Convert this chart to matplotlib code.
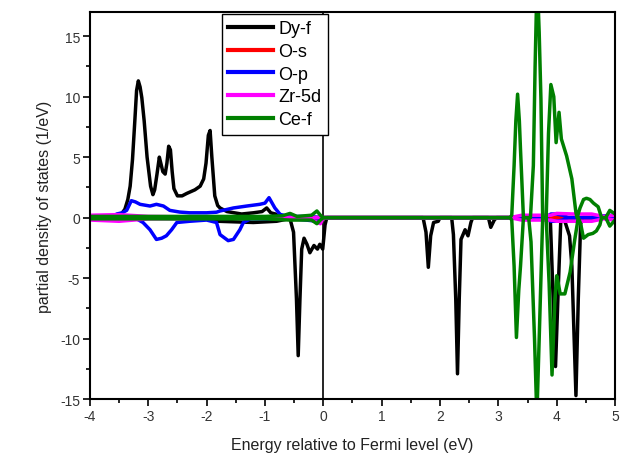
import matplotlib
matplotlib.use("Agg")
import matplotlib.pyplot as plt
from matplotlib.ticker import MultipleLocator, FuncFormatter

plt.rcParams['font.family'] = ['Liberation Sans', 'DejaVu Sans']

# ---- data (spin-up positive, spin-down negative) ----
labels = ["Dy-f", "O-s", "O-p", "Zr-5d", "Ce-f"]
colors = ["#000000", "#ff0000", "#0000ff", "#ff00ff", "#008000"]

dy_up_x = [-4, -3.5, -3.46, -3.40, -3.35, -3.31, -3.27, -3.23, -3.20, -3.17, -3.14, -3.11,
           -3.07, -3.02, -2.96, -2.92, -2.89, -2.85, -2.81, -2.78, -2.75, -2.71, -2.68,
           -2.65, -2.62, -2.59, -2.56, -2.50, -2.42, -2.34, -2.2, -2.11, -2.05, -2.01,
           -1.97, -1.94, -1.91, -1.86, -1.81, -1.77, -1.65, -1.4, -1.2, -1.05, -0.97,
           -0.9, -0.82, -0.74, -0.6, 0, 5]
dy_up_y = [0.05, 0.1, 0.3, 0.7, 1.5, 2.6, 4.8, 8.0, 10.5, 11.3, 10.8, 9.9,
           8.0, 5.0, 2.6, 1.9, 2.3, 3.6, 5.0, 4.4, 3.8, 3.6, 4.5,
           5.9, 5.6, 3.8, 2.4, 1.8, 1.8, 2.0, 2.3, 2.6, 3.2, 4.5,
           6.8, 7.2, 5.0, 1.8, 1.0, 0.8, 0.5, 0.3, 0.4, 0.5, 0.8,
           0.4, 0.3, 0.05, 0, 0, 0]

dy_dn_x = [-4, -2.0, -1.8, -1.2, -0.8, -0.6, -0.57, -0.51, -0.46, -0.43, -0.40, -0.37, -0.33,
           -0.28, -0.23, -0.16, -0.10, -0.06, -0.01, 0.03, 0.06, 1.71, 1.76, 1.80, 1.84,
           1.89, 1.97, 2.0, 2.20, 2.23, 2.27, 2.30, 2.33, 2.36, 2.43, 2.48, 2.53, 2.56,
           2.83, 2.87, 2.93, 2.97, 3.89, 3.93, 3.98, 4.03, 4.07, 4.14, 4.22, 4.26, 4.33,
           4.37, 4.41, 4.45, 5]
dy_dn_y = [0, -0.1, -0.3, -0.4, -0.3, -0.1, -0.1, -1.2, -6.7, -11.4, -6.7, -2.6, -1.7,
           -2.2, -2.9, -2.3, -2.6, -2.2, -2.6, -0.6, 0, 0, -1.2, -4.1, -1.5,
           -0.4, -0.3, 0, 0, -1.4, -6.7, -12.9, -6.7, -1.8, -1.0, -1.5, -0.4, 0,
           0, -0.8, -0.2, 0, 0, -5.4, -12.3, -5.4, -0.3, -0.3, -1.5, -4.0, -14.7,
           -6.7, -0.5, 0, 0]

os_up_x = [-4, -3, 0, 3, 5]
os_up_y = [0.02, 0.05, 0, 0, 0]
os_dn_x = [-4, -3, 0, 3, 5]
os_dn_y = [-0.02, -0.05, 0, 0, 0]

op_up_x = [-4, -3.6, -3.54, -3.45, -3.37, -3.29, -3.22, -3.14, -2.97, -2.86, -2.74, -2.63,
           -2.46, -2.29, -2.0, -1.83, -1.77, -1.54, -1.31, -1.09, -1.0, -0.93, -0.83, -0.74,
           -0.6, -0.3, 0, 3.8, 3.9, 4.0, 4.1, 4.2, 4.6, 4.7, 4.95, 5.0]
op_up_y = [0.05, 0.1, 0.3, 0.4, 0.6, 1.4, 1.3, 1.1, 0.96, 1.1, 0.96, 0.6,
           0.46, 0.4, 0.4, 0.45, 0.55, 0.8, 0.96, 1.1, 1.2, 1.65, 0.8, 0.27,
           0.1, 0.1, 0, 0, 0.3, 0.3, 0.2, 0, 0, 0.1, 0.2, 0.1]

op_dn_x = [-4, -3.2, -3.09, -2.97, -2.86, -2.77, -2.69, -2.60, -2.51, -2.29, -2.0, -1.83,
           -1.77, -1.63, -1.54, -1.43, -1.37, -1.25, -0.5, -0.1, 0, 3.8, 3.9, 4.0, 4.1,
           4.2, 5.0]
op_dn_y = [-0.05, -0.1, -0.4, -1.0, -1.8, -1.7, -1.5, -1.0, -0.4, -0.3, -0.2, -0.4,
           -1.4, -1.9, -1.8, -1.0, -0.4, -0.1, -0.1, -0.3, 0, 0, -0.3, -0.3, -0.2,
           0, 0]

zr_up_x = [-4, -3.5, -3.0, -2.0, -1, 0, 3.2, 3.4, 3.9, 4.0, 4.3, 4.6, 4.8, 5.0]
zr_up_y = [0.2, 0.25, 0.1, 0.05, 0.05, 0, 0, 0.2, 0.2, 0.35, 0.3, 0.3, 0.1, 0.2]
zr_dn_x = [-4, -3.5, -3.0, -2.0, -0.3, -0.15, -0.05, 0, 3.2, 3.4, 3.9, 4.0, 4.3, 4.6, 4.8, 5.0]
zr_dn_y = [-0.2, -0.3, -0.1, -0.05, -0.05, -0.3, -0.5, 0, 0, -0.2, -0.2, -0.3, -0.3, -0.3, -0.1, -0.2]

ce_up_x = [-4, -1.0, -0.7, -0.57, -0.45, -0.2, -0.11, -0.05, 0, 3.2, 3.23, 3.27, 3.30,
           3.33, 3.36, 3.38, 3.43, 3.55, 3.60, 3.63, 3.66, 3.68, 3.70, 3.73, 3.76, 3.82,
           3.86, 3.90, 3.95, 3.99, 4.04, 4.08, 4.17, 4.26, 4.33, 4.35, 4.40, 4.46, 4.51,
           4.57, 4.63, 4.71, 4.77, 4.84, 4.91, 5.0]
ce_up_y = [0.1, 0.1, 0.15, 0.35, 0.1, 0.2, 0.55, 0.2, 0, 0, 0.2, 4.3, 8,
           10.2, 8, 5.6, 0, 0, 4.3, 12.5, 19, 18, 15.3, 9.8, 0, 0,
           7.0, 11.0, 10.0, 6.2, 8.7, 6.5, 5.1, 3.2, 0.4, 0, 0.8, 1.5, 1.6,
           1.5, 1.2, 0.9, 0, 0, 0.6, 0.3]

ce_dn_x = [-4, -1.0, -0.57, -0.2, -0.11, -0.05, 0, 3.2, 3.23, 3.27, 3.31, 3.35, 3.38,
           3.43, 3.52, 3.56, 3.62, 3.66, 3.70, 3.76, 3.82, 3.87, 3.92, 3.97, 4.0, 4.03,
           4.06, 4.14, 4.23, 4.31, 4.37, 4.41, 4.46, 4.54, 4.62, 4.68, 4.74, 4.77, 4.84,
           4.91, 5.0]
ce_dn_y = [-0.1, -0.1, -0.2, -0.2, -0.5, -0.2, 0, 0, -0.2, -4.0, -9.9, -6, -4.0,
           0, 0, -2, -10, -16.5, -10, 0, 0, -5.4, -13.0, -6.7, -4.8, -5.5,
           -6.3, -6.3, -4.5, -1.8, 0, -0.5, -1.7, -1.4, -1.3, -1.1, -0.6, 0, 0,
           -0.7, -0.2]

series = [
    (dy_up_x, dy_up_y, dy_dn_x, dy_dn_y),
    (os_up_x, os_up_y, os_dn_x, os_dn_y),
    (op_up_x, op_up_y, op_dn_x, op_dn_y),
    (zr_up_x, zr_up_y, zr_dn_x, zr_dn_y),
    (ce_up_x, ce_up_y, ce_dn_x, ce_dn_y),
]

fig = plt.figure(figsize=(6.2, 4.6), dpi=100)
ax = fig.add_axes([0.145, 0.130, 0.847, 0.842])

for (ux, uy, dx, dy), lab, col in zip(series, labels, colors):
    ax.plot(ux, uy, color=col, lw=2.5, label=lab, solid_joinstyle='round')
    ax.plot(dx, dy, color=col, lw=2.5, solid_joinstyle='round')

ax.axvline(0, color='black', lw=1.2, zorder=1)

ax.set_xlim(-4, 5)
ax.set_ylim(-15, 17)
ax.xaxis.set_major_locator(MultipleLocator(1))
ax.xaxis.set_minor_locator(MultipleLocator(0.5))
ax.yaxis.set_major_locator(MultipleLocator(5))
ax.yaxis.set_minor_locator(MultipleLocator(2.5))
fmt = FuncFormatter(lambda v, p: ("-" if v < 0 else "") + "%d" % abs(round(v)))
ax.xaxis.set_major_formatter(fmt)
ax.yaxis.set_major_formatter(fmt)
ax.tick_params(which='major', direction='out', length=5, width=1.2, labelsize=10, pad=2,
               colors='black')
ax.tick_params(which='minor', direction='out', length=3, width=1.2)
ax.tick_params(axis='y', labelcolor='#333333')
ax.tick_params(axis='x', labelcolor='#333333')
for s in ax.spines.values():
    s.set_linewidth(1.5)

ax.set_xlabel("Energy relative to Fermi level (eV)", fontsize=11.5, color='#222222', labelpad=10)
ax.set_ylabel("partial density of states (1/eV)", fontsize=11.5, color='#222222', labelpad=6)

leg = ax.legend(loc='upper left', bbox_to_anchor=(0.251, 0.995), borderaxespad=0,
                fontsize=13, handlelength=2.5, handletextpad=0.3, labelspacing=0.32,
                fancybox=False, framealpha=1, edgecolor='black', borderpad=0.35)
leg.get_frame().set_linewidth(1.0)
for line in leg.get_lines():
    line.set_linewidth(3)

fig.savefig("out.png", dpi=100)
